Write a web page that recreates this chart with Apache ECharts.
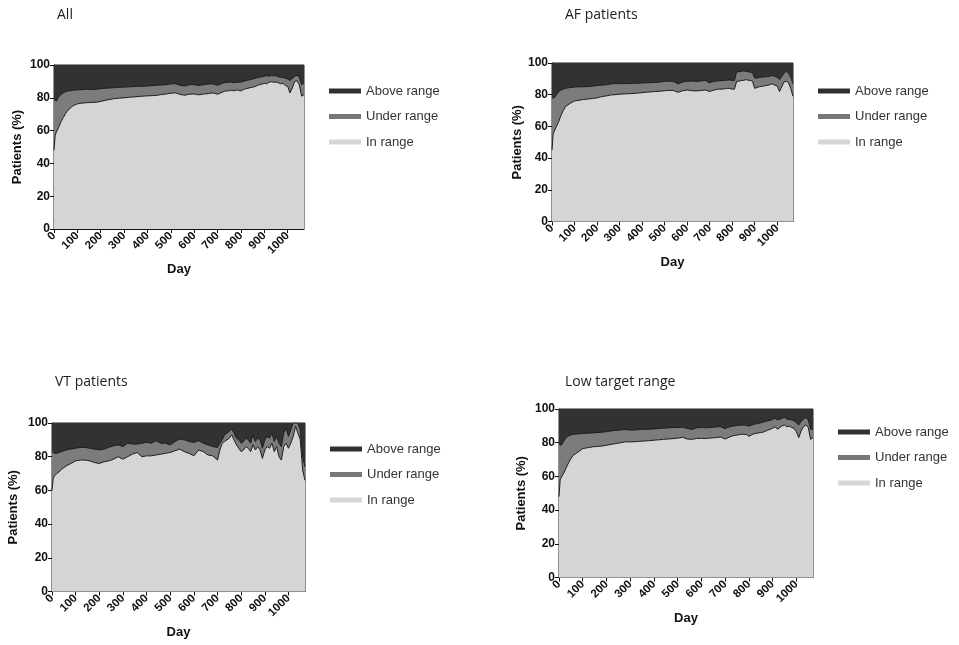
<!DOCTYPE html>
<html>
<head>
<meta charset="utf-8">
<script src="https://cdn.jsdelivr.net/npm/echarts@6/dist/echarts.min.js"></script>
<style>
html,body{margin:0;padding:0;background:#fff;}
#chart{width:959px;height:645px;}
</style>
</head>
<body>
<div id="chart"></div>
<script>
// Day sampling (x axis)
const days = [0,5,10,20,30,40,50,60,80,100,120,140,160,180,200,220,240,260,280,300,320,340,360,380,400,420,440,460,480,500,520,540,560,580,600,620,640,660,680,700,710,720,730,740,750,760,770,780,790,800,810,820,830,840,850,860,870,880,890,900,910,920,930,940,950,960,970,980,990,1000,1010,1020,1030,1040,1050,1060,1070];

const panelTitles = ['All', 'AF patients', 'VT patients', 'Low target range'];
const seriesNames = ['Above range', 'Under range', 'In range'];
const yTicks = [0, 20, 40, 60, 80, 100];
const xTicks = [0, 100, 200, 300, 400, 500, 600, 700, 800, 900, 1000];

// Panel 1: All
const allIn = [48,57,59,62,65.5,68,70.5,72.5,75,76.3,76.8,77,77.2,77.3,77.8,78.5,79,79.5,79.8,80,80.3,80.5,80.8,81,81.2,81.3,81.5,82,82.3,82.8,83,82,81.6,82.2,82.3,81.8,82.3,82.6,83,82.2,82.8,83.4,84,84.2,84.3,84.6,84.2,84.8,84.5,84.2,85,85.5,85.8,86.2,86.5,86.8,87.5,88,88.3,88.8,88.5,89.5,89.8,89.5,89.6,89.2,88.5,88.8,87.5,87,83,86,90,90.5,88,81,82];
const allUnder = [31,21.5,19,18.5,16.5,15,13.3,11.7,9.6,8.5,8.2,8.2,7.8,7.9,7.7,7.3,7,6.7,6.7,6.5,6.4,6.3,6.2,6,6,6.1,6.1,5.8,5.7,5.7,5.6,5.6,5.6,5.8,5.7,5.7,5.7,5.8,5.5,5.4,5.4,5.4,5.2,5.2,5.3,4.9,5,4.8,4.9,5.4,5,4.9,5,4.8,4.9,5,4.8,4.6,4.5,4.4,5,3.7,3.8,3.9,3.9,3.6,4,3.8,4.3,4.5,7.5,5.8,3,3.3,4.5,7,7];
const allAbove = [21,21.5,22,19.5,18,17,16.2,15.8,15.4,15.2,15,14.8,15,14.8,14.5,14.2,14,13.8,13.5,13.5,13.3,13.2,13,13,12.8,12.6,12.4,12.2,12,11.5,11.4,12.4,12.8,12,12,12.5,12,11.6,11.5,12.4,11.8,11.2,10.8,10.6,10.4,10.5,10.8,10.4,10.6,10.4,10,9.6,9.2,9,8.6,8.2,7.7,7.4,7.2,6.8,6.5,6.8,6.4,6.6,6.5,7.2,7.5,7.4,8.2,8.5,9.5,8.2,7,6.2,7.5,12,11];

// Panel 2: AF patients
const afIn = [45,55,57,60,63,67,70,72.5,74.5,76,76.5,77,77.3,77.6,78,78.8,79.2,79.8,80,80.3,80.5,80.6,80.8,81,81.3,81.6,81.8,82,82.2,82.5,82.8,82.6,81.5,82.5,83,82.5,82.4,82.6,83,82,82.5,83,83.2,83.5,83.5,83.6,83.8,84,84,83.5,83.5,88.5,88.5,89,89,89.5,89.2,89,88.5,84,84.5,85,85.2,85.5,85.8,86,86.5,86.8,86,85.5,82,85,88,88.5,87.5,84,79];
const afUnder = [33,22,21,20,19,16,13.5,11.5,10,8.8,8.5,8,7.9,7.8,7.8,7.2,7,7,7,6.7,6.5,6.4,6.4,6.2,6.1,5.9,5.8,5.8,5.8,6,5.7,5.7,5.3,5.5,5.5,6.1,6,6,6,5.5,5.5,5.4,5.4,5.3,5.3,5.4,5.2,5.2,5.3,5.5,5.5,6,6,5.6,6,5.3,5.3,5.2,5.5,6.5,6,5.8,5.8,5.7,5.5,5.4,5.3,5.2,5.5,5.5,7.5,6.5,5.5,6.3,6,7,8];
const afAbove = [22,23,22,20,18,17,16.5,16,15.5,15.2,15,15,14.8,14.6,14.2,14,13.8,13.2,13,13,13,13,12.8,12.8,12.6,12.5,12.4,12.2,12,11.5,11.5,11.7,13.2,12,11.5,11.4,11.6,11.4,11,12.5,12,11.6,11.4,11.2,11.2,11,11,10.8,10.7,11,11,5.5,5.5,5.4,5,5.2,5.5,5.8,6,9.5,9.5,9.2,9,8.8,8.7,8.6,8.2,8,8.5,9,10.5,8.5,6.5,5.2,6.5,9,13];

// Panel 3: VT patients
const vtIn = [60,67,68.5,70,71,72.5,73.5,74.5,76,77.5,78,78,77.5,76.5,76,77,77.5,78.5,80,78.5,80,81.5,82.5,80,80.5,80.5,81,81.5,82,82.5,83.5,84.5,83,82,80.5,84,83,81,80.5,78,84,88,89,90,91,93,90,87,85,83,84,86,85,83,87,84,86,84,79,84,86,85,88,83,86,80,78,86,88,85,88,92,98,94,90,72,66];
const vtUnder = [23,15.5,13.5,12,11.5,10.5,10,9.5,8.5,7.5,7.5,7.5,7.5,8,8,7.5,8,8,7,7.5,8,6,5,8,8,7.5,8.5,6.5,6,4.5,5.5,6,7,7,8,5.5,5,6,5.5,7.5,4,2,4,4,4,3.5,4,4,5,5,5,5,5,5,6,5,5,6,6,6,6,6,6,6,6,8,8,8,9,7,8,8,2,6,6,8,8];
const vtAbove = [17,17.5,18,18,17.5,17,16.5,16,15.5,15,14.5,14.5,15,15.5,16,15.5,14.5,13.5,13,14,12,12.5,12.5,12,11.5,12,10.5,12,12,13,11,9.5,10,11,11.5,10.5,12,13,14,14.5,12,10,7,6,5,3.5,6,9,10,12,11,9,10,12,7,11,9,10,15,10,8,9,6,11,8,12,14,6,3,8,4,0,0,0,4,20,26];

// Panel 4: Low target range
const lowIn = [48,58,59.5,62,65,68,70.5,72.5,74.5,76.5,77,77.5,77.8,78,78.5,79,79.5,80,80.5,80.5,80.6,80.8,81,81.2,81.5,81.7,82,82.2,82.4,82.7,83.2,82.2,82,82.5,82.6,82.5,82.8,83,83.4,82.2,82.8,83.5,84,84.3,84.5,84.8,85,85,84.8,83.8,84.5,85.2,85.5,85.8,86,86.3,86.8,87.5,88,88.5,89.5,88,89,90,90.5,89.5,89.8,89,88.5,86.5,83,87,89.5,90.5,89,82,83];
const lowUnder = [31,20,19,19,18,16,14,12.5,10.7,9,8.6,8.3,8.2,8.2,8,8,7.8,7.6,7.3,7,6.9,7,7,6.8,6.7,6.7,6.6,6.6,6.6,6.3,6,6.3,5.8,6.3,6.4,6.3,6.2,6.3,6.1,6.1,6.2,6,5.8,5.7,5.7,5.6,5.4,5.5,5.4,6,5.9,5.6,5.7,5.6,5.8,5.9,5.8,5.5,5.2,5.3,5,5.5,4.8,4.5,4.5,4.5,4,4.5,4.5,5.3,7.5,5.5,4.5,4.5,4.5,6,5];
const lowAbove = [21,22,21.5,19,17,16,15.5,15,14.8,14.5,14.4,14.2,14,13.8,13.5,13,12.7,12.4,12.2,12.5,12.5,12.2,12,12,11.8,11.6,11.4,11.2,11,11,10.8,11.5,12.2,11.2,11,11.2,11,10.7,10.5,11.7,11,10.5,10.2,10,9.8,9.6,9.6,9.5,9.8,10.2,9.6,9.2,8.8,8.6,8.2,7.8,7.4,7,6.8,6.2,5.5,6.5,6.2,5.5,5,6,6.2,6.5,7,8.2,9.5,7.5,6,5,6.5,12,12];

const panelData = [
  {inR: allIn, under: allUnder, above: allAbove},
  {inR: afIn, under: afUnder, above: afAbove},
  {inR: vtIn, under: vtUnder, above: vtAbove},
  {inR: lowIn, under: lowUnder, above: lowAbove}
];

// layout (pixels)
const grids = [
  {left: 54, top: 65, width: 250, height: 164},
  {left: 552, top: 63, width: 241, height: 158.5},
  {left: 52, top: 423, width: 253, height: 168.5},
  {left: 559, top: 409, width: 254, height: 168.5}
];
const yNameGaps = [30, 27, 32, 31];
const titlePos = [{left: 57, top: 8}, {left: 565, top: 8}, {left: 55, top: 375}, {left: 565, top: 375}];
const legendPos = [{left: 329, top: 84}, {left: 818, top: 84}, {left: 330, top: 442}, {left: 838, top: 425}];

const fillColors = {'Above range': '#323232', 'Under range': '#7c7c7c', 'In range': '#d5d5d7'};
const legendColors = {'Above range': '#303030', 'Under range': '#777777', 'In range': '#d6d6d6'};
const axisFont = 'Liberation Sans, Arial, Helvetica, sans-serif';

const option = {
  animation: false,
  backgroundColor: '#ffffff',
  title: panelTitles.map((t, i) => ({
    text: t, left: titlePos[i].left, top: titlePos[i].top, padding: 0,
    textStyle: {fontFamily: 'Open Sans, sans-serif', fontSize: 14, fontWeight: 'normal', color: '#222'}
  })),
  legend: legendPos.map((p) => ({
    orient: 'vertical', left: p.left, top: p.top, padding: 0,
    icon: 'rect', itemWidth: 32, itemHeight: 5, itemGap: 11.5,
    selectedMode: false,
    textStyle: {fontFamily: axisFont, fontSize: 13, color: '#333', lineHeight: 14},
    data: seriesNames.map(n => ({name: n, itemStyle: {color: legendColors[n]}}))
  })),
  grid: grids.map(g => Object.assign({show: true, borderColor: '#222', borderWidth: 1, backgroundColor: 'transparent'}, g)),
  xAxis: grids.map((g, i) => ({
    type: 'value', gridIndex: i, min: 0, max: 1070, interval: 100,
    name: 'Day', nameLocation: 'middle', nameGap: 34,
    nameTextStyle: {fontFamily: axisFont, fontWeight: 'bold', fontSize: 13, color: '#111'},
    axisLine: {show: true, lineStyle: {color: '#111', width: 1}},
    axisTick: {show: true, length: 4, lineStyle: {color: '#111'}},
    splitLine: {show: false},
    axisLabel: {
      rotate: 45, margin: 5, showMaxLabel: false,
      fontFamily: axisFont, fontWeight: 'bold', fontSize: 11.5, color: '#111',
      formatter: v => (xTicks.indexOf(v) >= 0 ? String(v) : '')
    }
  })),
  yAxis: grids.map((g, i) => ({
    type: 'value', gridIndex: i, min: 0, max: 100, interval: 20,
    name: 'Patients (%)', nameLocation: 'middle', nameGap: yNameGaps[i],
    nameTextStyle: {fontFamily: axisFont, fontWeight: 'bold', fontSize: 13, color: '#111'},
    axisLine: {show: true, lineStyle: {color: '#111', width: 1}},
    axisTick: {show: true, length: 4, lineStyle: {color: '#111'}},
    splitLine: {show: false},
    axisLabel: {
      margin: 4, fontFamily: axisFont, fontWeight: 'bold', fontSize: 12, color: '#111',
      formatter: v => (yTicks.indexOf(v) >= 0 ? String(v) : '')
    }
  })),
  series: []
};

// Cumulative layers (drawn as overlapping areas from 0): top of each band
panelData.forEach((pd, p) => {
  const layers = [
    {name: 'Above range', z: 2, line: 0, vals: days.map((d, i) => [d, pd.inR[i] + pd.under[i] + pd.above[i]])},
    {name: 'Under range', z: 3, line: 1, vals: days.map((d, i) => [d, pd.inR[i] + pd.under[i]])},
    {name: 'In range', z: 4, line: 1, vals: days.map((d, i) => [d, pd.inR[i]])}
  ];
  layers.forEach(L => {
    option.series.push({
      name: L.name, type: 'line', xAxisIndex: p, yAxisIndex: p,
      symbol: 'none', showSymbol: false, z: L.z,
      color: fillColors[L.name],
      lineStyle: {color: '#1e1e1e', width: L.line},
      areaStyle: {color: fillColors[L.name], opacity: 1, origin: 'start'},
      emphasis: {disabled: true},
      data: L.vals
    });
  });
});

const chart = echarts.init(document.getElementById('chart'), null, {renderer: 'canvas'});
chart.setOption(option);
</script>
</body>
</html>
